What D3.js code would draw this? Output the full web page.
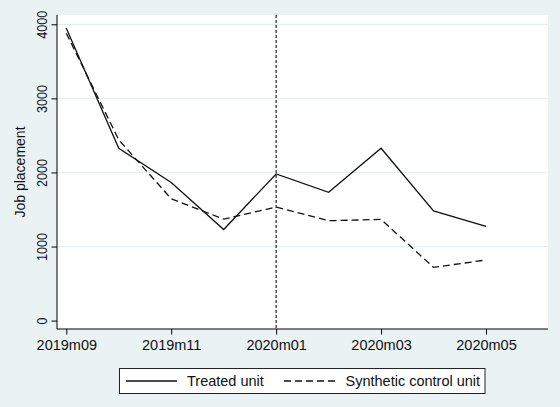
<!DOCTYPE html>
<html>
<head>
<meta charset="utf-8">
<script src="https://cdn.jsdelivr.net/npm/d3@7"></script>
<style>
  body { margin: 0; background: #eaf2f3; }
  svg { display: block; font-family: "Liberation Sans", Arial, sans-serif; }
</style>
</head>
<body>
<svg width="560" height="407"></svg>
<script>
var months = ["2019m09", "2019m10", "2019m11", "2019m12", "2020m01", "2020m02", "2020m03", "2020m04", "2020m05"];
var treated = [3947, 2325, 1865, 1230, 1980, 1732, 2327, 1482, 1273];
var synthetic = [3880, 2440, 1645, 1370, 1532, 1348, 1366, 719, 818];
var xTicks = ["2019m09", "2019m11", "2020m01", "2020m03", "2020m05"];
var yTicks = [0, 1000, 2000, 3000, 4000];
var treatMonth = "2020m01";

var svg = d3.select("svg"),
    width = +svg.attr("width"),
    height = +svg.attr("height");

var plot = {left: 57, top: 15, right: 548, bottom: 329};
var fontSize = "14.5px";

svg.append("rect")
    .attr("width", width).attr("height", height)
    .attr("fill", "#eaf2f3");

svg.append("rect")
    .attr("x", plot.left).attr("y", plot.top)
    .attr("width", plot.right - plot.left).attr("height", plot.bottom - plot.top)
    .attr("fill", "#fff");

var x = d3.scalePoint()
    .domain(months)
    .range([66.3, 486]);

var y = d3.scaleLinear()
    .domain([0, 4000])
    .range([320.6, 24.3]);

// gridlines
svg.append("g")
  .selectAll("line")
  .data(yTicks.filter(function(d) { return d > 0; }))
  .enter().append("line")
    .attr("x1", plot.left).attr("x2", plot.right)
    .attr("y1", function(d) { return y(d); })
    .attr("y2", function(d) { return y(d); })
    .attr("stroke", "#e6eff1")
    .attr("stroke-width", 1.2);

// y axis
var yAxis = svg.append("g")
    .attr("transform", "translate(" + plot.left + ",0)")
    .call(d3.axisLeft(y).tickValues(yTicks).tickFormat(d3.format("d"))
      .tickSize(5.5).tickPadding(4).tickSizeOuter(0));
yAxis.attr("font-size", null).attr("font-family", null);
yAxis.select(".domain").remove();
yAxis.append("line")
    .attr("x1", 0).attr("x2", 0)
    .attr("y1", plot.top).attr("y2", plot.bottom)
    .attr("stroke", "#000");
yAxis.selectAll(".tick line").attr("stroke", "#000");
yAxis.selectAll(".tick text")
    .attr("transform", "rotate(-90)")
    .attr("x", 0).attr("y", -10.5).attr("dy", 0)
    .attr("text-anchor", "middle")
    .attr("fill", "#111")
    .attr("textLength", function(d) { return String(d).length * 7; })
    .attr("lengthAdjust", "spacingAndGlyphs")
    .style("font-size", fontSize);

// x axis
var xAxis = svg.append("g")
    .attr("transform", "translate(0," + plot.bottom + ")")
    .call(d3.axisBottom(x).tickValues(xTicks).tickSize(5.5).tickPadding(5).tickSizeOuter(0));
xAxis.attr("font-size", null).attr("font-family", null);
xAxis.select(".domain").remove();
xAxis.append("line")
    .attr("x1", plot.left).attr("x2", plot.right)
    .attr("y1", 0).attr("y2", 0)
    .attr("stroke", "#000");
xAxis.selectAll(".tick line").attr("stroke", "#000");
xAxis.selectAll(".tick text")
    .attr("fill", "#111")
    .style("font-size", fontSize);

// y title
svg.append("text")
    .attr("transform", "translate(24.5," + ((plot.top + plot.bottom) / 2) + ") rotate(-90)")
    .attr("text-anchor", "middle")
    .attr("fill", "#111")
    .style("font-size", "14px")
    .text("Job placement");

// treatment line
svg.append("line")
    .attr("x1", x(treatMonth)).attr("x2", x(treatMonth))
    .attr("y1", plot.top).attr("y2", plot.bottom)
    .attr("stroke", "#333")
    .attr("stroke-width", 1.3)
    .attr("stroke-dasharray", "3,2");

var line = d3.line()
    .x(function(d, i) { return x(months[i]); })
    .y(function(d) { return y(d); });

svg.append("path")
    .datum(synthetic)
    .attr("d", line)
    .attr("fill", "none")
    .attr("stroke", "#111")
    .attr("stroke-width", 1.3)
    .attr("stroke-dasharray", "7,4");

svg.append("path")
    .datum(treated)
    .attr("d", line)
    .attr("fill", "none")
    .attr("stroke", "#111")
    .attr("stroke-width", 1.3);

// legend
var legend = svg.append("g");
legend.append("rect")
    .attr("x", 119.5).attr("y", 368.5)
    .attr("width", 365.5).attr("height", 25)
    .attr("fill", "#fff")
    .attr("stroke", "#222");

var items = [
  {label: "Treated unit", dash: null, x1: 126, x2: 177, tx: 187},
  {label: "Synthetic control unit", dash: "7,4", x1: 284, x2: 337, tx: 345.5}
];
items.forEach(function(it) {
  legend.append("line")
      .attr("x1", it.x1).attr("x2", it.x2)
      .attr("y1", 381).attr("y2", 381)
      .attr("stroke", "#111")
      .attr("stroke-width", 1.3)
      .attr("stroke-dasharray", it.dash);
  legend.append("text")
      .attr("x", it.tx).attr("y", 386)
      .attr("fill", "#111")
      .style("font-size", fontSize)
      .text(it.label);
});
</script>
</body>
</html>
